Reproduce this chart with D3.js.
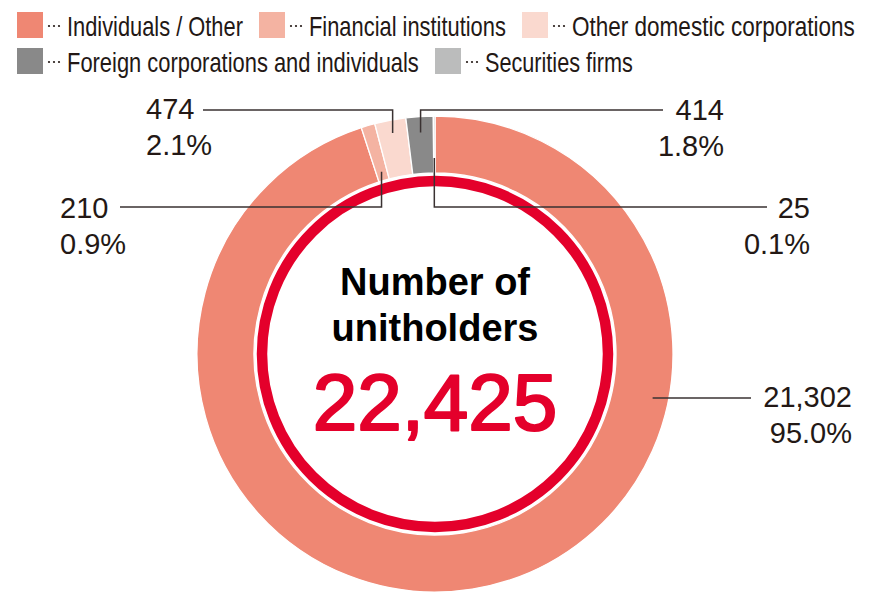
<!DOCTYPE html>
<html>
<head>
<meta charset="utf-8">
<script src="https://cdn.jsdelivr.net/npm/d3@7/dist/d3.min.js"></script>
<style>
  html, body { margin: 0; padding: 0; background: #fff; }
  svg { display: block; }
</style>
</head>
<body>
<svg id="chart" width="872" height="600"></svg>
<script>
// ---- Data ----
const categories = ["Individuals / Other", "Financial institutions", "Other domestic corporations", "Foreign corporations and individuals", "Securities firms"];
const values = [21302, 210, 474, 414, 25];
const percentLabels = ["95.0%", "0.9%", "2.1%", "1.8%", "0.1%"];
const totalLabel = "22,425";
const centerTitle = ["Number of", "unitholders"];

// ---- Styles / layout ----
const colors = ["#EF8773", "#F4B3A2", "#FAD9CF", "#898989", "#BBBCBC"];
const textColor = "#231815";
const red = "#E4002B";
const cx = 435, cy = 354;
const rOuter = 238, rInner = 181;

const svg = d3.select("#chart");

// Legend (rows, item order, target text widths for a condensed look)
const legendRows = [[0, 1, 2], [3, 4]];
const legendTextWidth = [176, 197, 283, 352, 148];
const legendY = [12, 48];
const sw = 26;
legendRows.forEach((row, ri) => {
  let x = 17;
  row.forEach(i => {
    const g = svg.append("g").attr("transform", `translate(${x},${legendY[ri]})`);
    g.append("rect").attr("width", sw).attr("height", sw).attr("fill", colors[i]);
    [0, 1, 2].forEach(k => {
      g.append("circle").attr("cx", sw + 6 + k * 5).attr("cy", 14).attr("r", 1.1).attr("fill", textColor);
    });
    const tg = g.append("g").attr("transform", `translate(${sw + 24},0)`);
    const t = tg.append("text")
      .attr("x", 0).attr("y", 24)
      .attr("font-family", "'Liberation Sans', Arial, sans-serif")
      .attr("font-size", 28.5)
      .attr("fill", textColor)
      .text(categories[i]);
    const natural = t.node().getComputedTextLength();
    tg.attr("transform", `translate(${sw + 24},0) scale(${legendTextWidth[i] / natural},1)`);
    x += sw + 24 + legendTextWidth[i] + 16;
  });
});

// Donut
const pie = d3.pie().sort(null).value(d => d).startAngle(0).endAngle(2 * Math.PI);
const arcs = pie(values);
const arc = d3.arc().innerRadius(rInner).outerRadius(rOuter);
const chart = svg.append("g").attr("transform", `translate(${cx},${cy})`);
chart.selectAll("path.slice").data(arcs).enter().append("path")
  .attr("class", "slice")
  .attr("d", arc)
  .attr("fill", (d, i) => colors[i])
  .attr("stroke", "#fff")
  .attr("stroke-width", 1.3);

// Red inner ring
chart.append("circle").attr("r", 173).attr("fill", "none").attr("stroke", red).attr("stroke-width", 10.5);

// Center text
const ctext = chart.append("g").attr("font-family", "'Liberation Sans', Arial, sans-serif").attr("text-anchor", "middle");
ctext.append("text").attr("y", 295 - cy).attr("font-size", 38).attr("font-weight", "bold").attr("fill", "#000").text(centerTitle[0]);
ctext.append("text").attr("y", 341 - cy).attr("font-size", 38).attr("font-weight", "bold").attr("fill", "#000").text(centerTitle[1]);
ctext.append("text").attr("y", 430 - cy).attr("font-size", 80).attr("fill", red)
  .attr("stroke", red).attr("stroke-width", 2.2).attr("stroke-linejoin", "round").text(totalLabel);

// Labels with leader lines
const labelLayout = [
  { anchor: "end",   tx: 852, ty: 407, ly: 398, lx: 751, r: 222, angle: (180 - 78.6) * Math.PI / 180, straight: true },
  { anchor: "start", tx: 60,  ty: 218, ly: 207, lx: 120, r: 190 },
  { anchor: "start", tx: 146, ty: 119, ly: 110, lx: 203, r: 225 },
  { anchor: "end",   tx: 724, ty: 120, ly: 110, lx: 663, r: 222 },
  { anchor: "end",   tx: 810, ty: 218, ly: 207, lx: 767, r: 196 }
];
const fmt = d3.format(",");
arcs.forEach((a, i) => {
  const L = labelLayout[i];
  const ang = L.angle !== undefined ? L.angle : (a.startAngle + a.endAngle) / 2;
  const ax = cx + L.r * Math.sin(ang);
  const ay = cy - L.r * Math.cos(ang);
  const d = L.straight ? `M${L.lx},${L.ly}H${ax}` : `M${L.lx},${L.ly}H${ax}V${ay}`;
  svg.append("path").attr("d", d).attr("fill", "none").attr("stroke", "#3a3232").attr("stroke-width", 1.5);
  const t = svg.append("text")
    .attr("font-family", "'Liberation Sans', Arial, sans-serif")
    .attr("font-size", 29)
    .attr("fill", textColor)
    .attr("text-anchor", L.anchor);
  t.append("tspan").attr("x", L.tx).attr("y", L.ty).text(fmt(values[i]));
  t.append("tspan").attr("x", L.tx).attr("y", L.ty + 36).text(percentLabels[i]);
});
</script>
</body>
</html>
